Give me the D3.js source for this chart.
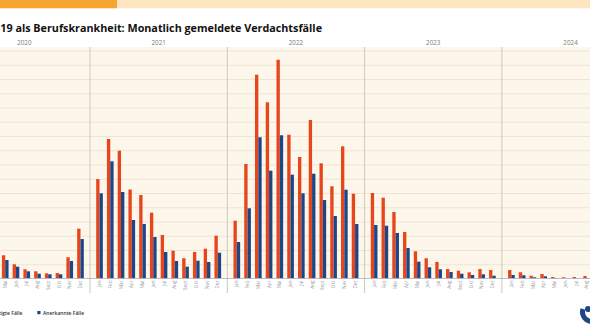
<!DOCTYPE html>
<html><head><meta charset="utf-8">
<script src="https://cdn.jsdelivr.net/npm/d3@7"></script>
<style>html,body{margin:0;padding:0;background:#fff;overflow:hidden}svg{display:block}</style>
</head><body>
<script>
const years = [2020, 2021, 2022, 2023, 2024];
const months = ["Jan","Feb","Mär","Apr","Mai","Jun","Jul","Aug","Sept","Okt","Nov","Dez"];
const periods = [
 "2020-Mai","2020-Jun","2020-Jul","2020-Aug","2020-Sept","2020-Okt","2020-Nov","2020-Dez",
 "2021-Jan","2021-Feb","2021-Mär","2021-Apr","2021-Mai","2021-Jun","2021-Jul","2021-Aug","2021-Sept","2021-Okt","2021-Nov","2021-Dez",
 "2022-Jan","2022-Feb","2022-Mär","2022-Apr","2022-Mai","2022-Jun","2022-Jul","2022-Aug","2022-Sept","2022-Okt","2022-Nov","2022-Dez",
 "2023-Jan","2023-Feb","2023-Mär","2023-Apr","2023-Mai","2023-Jun","2023-Jul","2023-Aug","2023-Sept","2023-Okt","2023-Nov","2023-Dez",
 "2024-Jan","2024-Feb","2024-Mär","2024-Apr","2024-Mai","2024-Jun","2024-Jul","2024-Aug"
];
const verdachtsfaelle = [
 3260,1990,1290,1010,730,770,2980,6990,
 13960,19580,17940,12490,11720,9240,6110,3900,2840,3720,4180,6010,
 8110,16070,28600,24730,30710,20180,17050,22250,16170,12940,18550,11900,
 12000,11340,9330,6530,3820,2840,2320,1330,1090,870,1330,1190,
 1190,870,390,630,210,170,210,350
];
const anerkannt = [
 2600,1660,1010,670,590,590,2460,5540,
 11960,16450,12140,8210,7650,5820,3720,2460,1660,2500,2320,3620,
 5120,9850,19820,15130,20100,14570,11960,14710,11020,8770,12460,7650,
 7510,7410,6390,4280,2360,1570,1290,910,670,490,590,390,
 490,450,170,310,70,40,40,40
];
const gridValues = [0,2000,4000,6000,8000,10000,12000,14000,16000,18000,20000,22000,24000,26000,28000,30000,32000];
const seriesNames = ["Bestätigte Fälle","Anerkannte Fälle"];
const titleText = "COVID-19 als Berufskrankheit: Monatlich gemeldete Verdachtsfälle";

const W = 590, H = 332;
const colors = {v:"#e5461c", a:"#1d4688"};
const baseY = 278.5, topY = 50.5;
const svg = d3.select("body").append("svg").attr("width",W).attr("height",H);

// top band
svg.append("rect").attr("x",0).attr("y",0).attr("width",117).attr("height",8.3).attr("fill","#f6a630");
svg.append("rect").attr("x",117).attr("y",0).attr("width",W-117).attr("height",8.3).attr("fill","#fde5bf");

// title
const font = "'Open Sans', 'Noto Sans', sans-serif";
const title = svg.append("text").attr("font-family",font).attr("font-weight",700)
  .attr("font-size",12).attr("fill","#111").text("19 als Berufskrankheit: Monatlich gemeldete Verdachtsfälle");
const tl = title.node().getComputedTextLength();
const fs = 12*322/tl;
title.attr("font-size",fs).text(titleText).attr("text-anchor","end").attr("x",322).attr("y",32);

// plot background
svg.append("rect").attr("x",0).attr("y",47).attr("width",W).attr("height",baseY-47).attr("fill","#fdf6ea");

const y = d3.scaleLinear().domain([0,32000]).range([baseY, topY]);
const xYear = d3.scaleBand().domain(years).range([-47.3, -47.3 + 5*137.3]).padding(0);
const xMonth = d3.scaleBand().domain(months).range([0, xYear.bandwidth()]).paddingInner(0.38).paddingOuter(0.575);
const xSeries = d3.scaleBand().domain(["v","a"]).range([0, xMonth.bandwidth()]);

// gridlines
const grid = svg.append("g").attr("class","grid")
  .call(d3.axisLeft(y).tickValues(gridValues.slice(1)).tickSize(-W).tickFormat(""));
grid.attr("transform","translate(0,0)");
grid.select(".domain").remove();
grid.selectAll("line").attr("x1",0).attr("x2",W).attr("stroke","#efe4d1").attr("stroke-width",1);

// year separators
svg.append("g").selectAll("line").data(years.slice(1)).join("line")
  .attr("x1",d=>xYear(d)).attr("x2",d=>xYear(d)).attr("y1",47).attr("y2",293)
  .attr("stroke","#cfc8be").attr("stroke-width",1);

// year labels
svg.append("g").selectAll("text").data(years).join("text")
  .attr("x",d=>xYear(d)+xYear.bandwidth()/2 + (d===2020?3:0)).attr("y",45)
  .attr("text-anchor","middle").attr("font-family",font).attr("font-size",6.3).attr("fill","#7a7a7a")
  .text(d=>d);

// bars
const data = periods.map((p,i)=>{const [yr,m]=p.split("-");return {year:+yr, month:m, v:verdachtsfaelle[i], a:anerkannt[i]};});
const px = d => xYear(d.year) + xMonth(d.month);
const bars = svg.append("g");
["v","a"].forEach(k=>{
  bars.append("g").selectAll("rect").data(data).join("rect")
    .attr("x",d=>px(d)+xSeries(k)).attr("width",xSeries.bandwidth())
    .attr("y",d=>y(d[k])).attr("height",d=>baseY-y(d[k])).attr("fill",colors[k]);
});

// baseline
svg.append("line").attr("x1",0).attr("x2",W).attr("y1",baseY).attr("y2",baseY).attr("stroke","#a6b1c6").attr("stroke-width",0.8);

// month labels
svg.append("g").selectAll("text").data(data).join("text")
  .attr("transform",d=>`translate(${px(d)+xMonth.bandwidth()/2},${baseY+2}) rotate(-90)`)
  .attr("text-anchor","end").attr("dy","0.35em")
  .attr("font-family",font).attr("font-size",4.6).attr("fill","#9a9a9a")
  .text(d=>d.month);

// legend
const lg = svg.append("g").attr("font-family",font).attr("font-size",5).attr("font-weight",600).attr("fill","#333");
lg.append("text").attr("x",22.5).attr("y",315).attr("text-anchor","end").text(seriesNames[0]);
lg.append("rect").attr("x",-9).attr("y",311).attr("width",3.2).attr("height",3.2).attr("fill",colors.v);
lg.append("rect").attr("x",37.3).attr("y",311).attr("width",3.2).attr("height",3.2).attr("fill",colors.a);
lg.append("text").attr("x",43).attr("y",315).text(seriesNames[1]);

// logo fragment
const arc = d3.arc().innerRadius(7).outerRadius(12).startAngle(Math.PI*0.95).endAngle(Math.PI*1.6);
svg.append("path").attr("d",arc()).attr("transform","translate(592,312)").attr("fill","#1d4688");
svg.append("circle").attr("cx",588).attr("cy",309).attr("r",3).attr("fill","#1d4688");
</script>
</body></html>
